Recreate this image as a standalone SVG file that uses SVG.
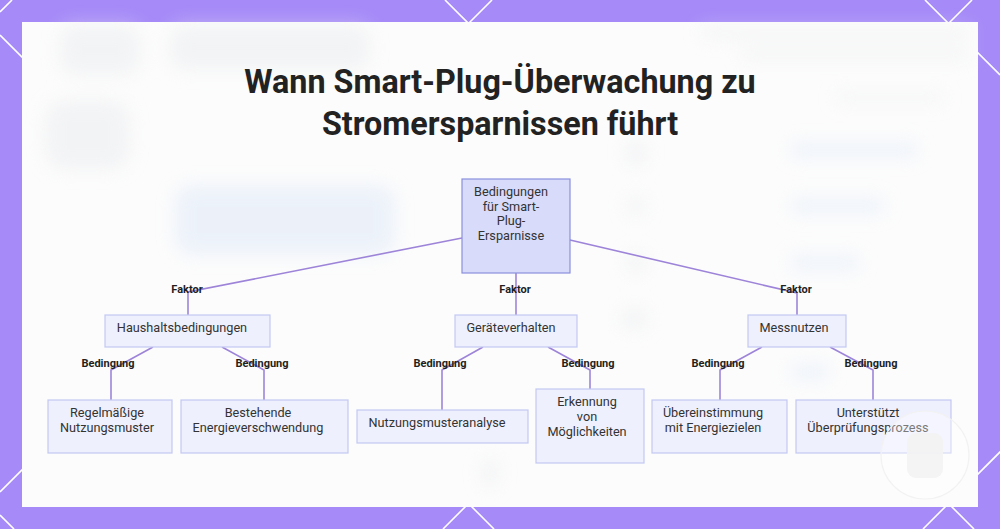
<svg xmlns="http://www.w3.org/2000/svg" width="1000" height="529" viewBox="0 0 1000 529">
  <defs>
    <filter id="blur" x="-30%" y="-80%" width="160%" height="260%">
      <feGaussianBlur stdDeviation="9"/>
    </filter>
    <style>
      .lat { stroke: #ffffff; stroke-width: 1.6; fill: none; }
      .node { fill: #EEF0FD; stroke: #C3C8F2; stroke-width: 1.2; }
      .root { fill: #D8DBFA; stroke: #8A90DC; stroke-width: 1.2; }
      .lbl { font-family: Roboto, "Liberation Sans", sans-serif; font-size: 12.7px; fill: #333333; text-anchor: middle; }
      .edge { stroke: #9D84D9; stroke-width: 1.6; fill: none; }
      .elbl { font-family: Roboto, "Liberation Sans", sans-serif; font-size: 11px; font-weight: bold; fill: #1f1f1f; text-anchor: middle; }
      .title { font-family: Roboto, "Liberation Sans", sans-serif; font-size: 32.3px; font-weight: bold; fill: #222222; text-anchor: middle; }
      .bg { fill: #e9ebee; }
      .bgb { fill: #dde8f8; }
    </style>
  </defs>

  <!-- purple frame with lattice -->
  <rect x="0" y="0" width="1000" height="529" fill="#A68BF8"/>
  <g id="lattice">
    <path class="lat" d="M12,0 L0,12"/>
    <path class="lat" d="M492,0 L0,492"/>
    <path class="lat" d="M972,0 L443,529"/>
    <path class="lat" d="M1452,0 L923,529"/>
    <path class="lat" d="M0,515 L14,529"/>
    <path class="lat" d="M0,35 L494,529"/>
    <path class="lat" d="M445,0 L974,529"/>
    <path class="lat" d="M925,0 L1000,75"/>
  </g>

  <!-- white panel with faint blurred background -->
  <rect id="panel" x="22" y="22" width="956" height="485" fill="#FCFCFC"/>
  <g id="background" filter="url(#blur)" opacity="0.5">
    <rect class="bg" x="60" y="25" width="80" height="50" rx="14"/>
    <rect class="bg" x="170" y="25" width="200" height="45" rx="14"/>
    <rect class="bg" x="45" y="100" width="85" height="70" rx="20"/>
    <rect class="bgb" x="175" y="185" width="220" height="70" rx="16"/>
    <rect class="bg" x="700" y="28" width="270" height="10" rx="5"/>
    <rect class="bg" x="740" y="50" width="230" height="10" rx="5"/>
    <rect class="bg" x="835" y="94" width="110" height="8" rx="4"/>
    <rect class="bg" x="626" y="140" width="20" height="26" rx="8"/>
    <rect class="bgb" x="790" y="143" width="128" height="14" rx="5"/>
    <rect class="bg" x="626" y="196" width="20" height="20" rx="10"/>
    <rect class="bgb" x="790" y="199" width="95" height="14" rx="5"/>
    <rect class="bg" x="626" y="253" width="20" height="20" rx="8"/>
    <rect class="bgb" x="790" y="256" width="70" height="14" rx="5"/>
    <rect class="bg" x="620" y="309" width="28" height="20" rx="8"/>
    <rect class="bgb" x="790" y="365" width="40" height="14" rx="5"/>
    <rect class="bg" x="482" y="458" width="16" height="30" rx="8"/>
  </g>

  <!-- title -->
  <g id="title">
    <text class="title" x="500" y="93">Wann Smart-Plug-Überwachung zu</text>
    <text class="title" x="500" y="135">Stromersparnissen führt</text>
  </g>

  <!-- connectors -->
  <g id="connectors">
    <path class="edge" d="M462,238 L188,292 L188,315"/>
    <path class="edge" d="M516,273 L516,315"/>
    <path class="edge" d="M570,240 L797,293 L797,315"/>

    <path class="edge" d="M153,347 L111,370 L111,400"/>
    <path class="edge" d="M222,347 L264,370 L264,400"/>

    <path class="edge" d="M483,347 L442,370 L442,410"/>
    <path class="edge" d="M548,347 L590,370 L590,389"/>

    <path class="edge" d="M762,347 L720,370 L720,400"/>
    <path class="edge" d="M830,347 L873,370 L873,400"/>

    <text class="elbl" x="187" y="293">Faktor</text>
    <text class="elbl" x="515" y="293">Faktor</text>
    <text class="elbl" x="796" y="293">Faktor</text>
    <text class="elbl" x="108" y="367">Bedingung</text>
    <text class="elbl" x="262" y="367">Bedingung</text>
    <text class="elbl" x="440" y="367">Bedingung</text>
    <text class="elbl" x="588" y="367">Bedingung</text>
    <text class="elbl" x="718" y="367">Bedingung</text>
    <text class="elbl" x="871" y="367">Bedingung</text>
  </g>

  <!-- nodes -->
  <g id="root">
    <rect class="root" x="462" y="179" width="108" height="94"/>
    <text class="lbl" x="511" y="196">Bedingungen</text>
    <text class="lbl" x="511" y="211">für Smart-</text>
    <text class="lbl" x="511" y="225">Plug-</text>
    <text class="lbl" x="511" y="240">Ersparnisse</text>
  </g>

  <g id="haushalt">
    <rect class="node" x="105" y="315" width="165" height="32"/>
    <text class="lbl" x="182" y="332">Haushaltsbedingungen</text>
  </g>
  <g id="geraete">
    <rect class="node" x="455" y="315" width="122" height="32"/>
    <text class="lbl" x="511" y="332">Geräteverhalten</text>
  </g>
  <g id="messnutzen">
    <rect class="node" x="748" y="315" width="98" height="32"/>
    <text class="lbl" x="794" y="332">Messnutzen</text>
  </g>

  <g id="regelmaessig">
    <rect class="node" x="48" y="400" width="124" height="53"/>
    <text class="lbl" x="107" y="417">Regelmäßige</text>
    <text class="lbl" x="107" y="432">Nutzungsmuster</text>
  </g>
  <g id="bestehend">
    <rect class="node" x="181" y="400" width="167" height="53"/>
    <text class="lbl" x="258" y="417">Bestehende</text>
    <text class="lbl" x="258" y="432">Energieverschwendung</text>
  </g>
  <g id="nutzungsanalyse">
    <rect class="node" x="357" y="410" width="171" height="33"/>
    <text class="lbl" x="437" y="427">Nutzungsmusteranalyse</text>
  </g>
  <g id="erkennung">
    <rect class="node" x="536" y="389" width="108" height="74"/>
    <text class="lbl" x="587" y="406">Erkennung</text>
    <text class="lbl" x="587" y="421">von</text>
    <text class="lbl" x="587" y="436">Möglichkeiten</text>
  </g>
  <g id="uebereinstimmung">
    <rect class="node" x="652" y="400" width="135" height="53"/>
    <text class="lbl" x="713" y="417">Übereinstimmung</text>
    <text class="lbl" x="713" y="432">mit Energiezielen</text>
  </g>
  <g id="unterstuetzt">
    <rect class="node" x="796" y="400" width="155" height="53"/>
    <text class="lbl" x="868" y="417">Unterstützt</text>
    <text class="lbl" x="868" y="432">Überprüfungsprozess</text>
  </g>

  <!-- faint overlay badge bottom right -->
  <g id="overlay">
    <circle cx="925" cy="455" r="44" fill="#ffffff" fill-opacity="0.35" stroke="#f2f2f2" stroke-width="1.2"/>
    <rect x="907" y="433" width="36" height="45" rx="9" fill="#f3f3f3" fill-opacity="0.9"/>
  </g>
</svg>
